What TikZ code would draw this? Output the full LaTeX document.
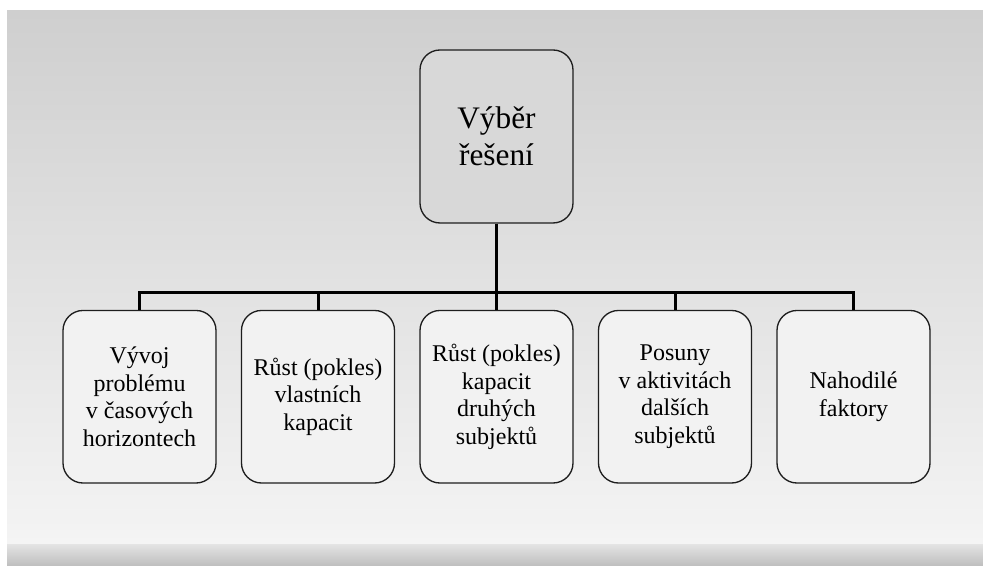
\documentclass[tikz,border=0pt]{standalone}
\usepackage{fontspec}
\setmainfont{Liberation Serif}
\definecolor{bgtop}{RGB}{207,207,207}
\definecolor{bgbot}{RGB}{244,244,244}
\definecolor{bandtop}{RGB}{226,226,226}
\definecolor{bandbot}{RGB}{190,190,190}
\definecolor{topfill}{RGB}{216,216,216}
\definecolor{boxfill}{RGB}{242,242,242}
\definecolor{edge}{RGB}{30,30,30}
\tikzset{
  mainbox/.style={draw=edge, line width=1pt, rounded corners=15pt, fill=topfill,
    minimum width=114.75pt, minimum height=129.75pt, align=center, inner sep=2pt,
    font=\fontsize{23.5pt}{27.5pt}\selectfont},
  subbox/.style={draw=edge, line width=1pt, rounded corners=15pt, fill=boxfill,
    minimum width=114.75pt, minimum height=129.4pt, align=center, inner sep=2pt,
    font=\fontsize{18pt}{20.8pt}\selectfont},
  conn/.style={line width=2.25pt, black, line join=miter}
}
\begin{document}
\begin{tikzpicture}[x=0.75pt,y=0.75pt]
\useasboundingbox (0,0) rectangle (983,566);
\fill[white] (0,0) rectangle (983,566);
\shade[top color=bgtop, bottom color=bgbot] (7,21) rectangle (983,555);
\shade[top color=bandtop, bottom color=bandbot] (7,0) rectangle (983,21);

\node[mainbox] (top) at (496.5,429.5) {Výběr\\řešení};

\node[subbox] (b1) at (139.5,169.25) {Vývoj\\problému\\v časových\\horizontech};
\node[subbox] (b2) at (318,169.25) {Růst (pokles)\\vlastních\\kapacit};
\node[subbox] (b3) at (496.5,169.25) {Růst (pokles)\\kapacit\\druhých\\subjektů};
\node[subbox] (b4) at (675,169.25) {Posuny\\v aktivitách\\dalších\\subjektů};
\node[subbox] (b5) at (853.5,169.25) {Nahodilé\\faktory};

\coordinate (bus) at (496.5,273.3);
\draw[conn] (top.south) -- (bus);
\draw[conn] (b1.north) -- (b1.north |- bus) -- (b5.north |- bus) -- (b5.north);
\draw[conn] (b2.north) -- (b2.north |- bus);
\draw[conn] (b3.north) -- (b3.north |- bus);
\draw[conn] (b4.north) -- (b4.north |- bus);
\end{tikzpicture}
\end{document}
